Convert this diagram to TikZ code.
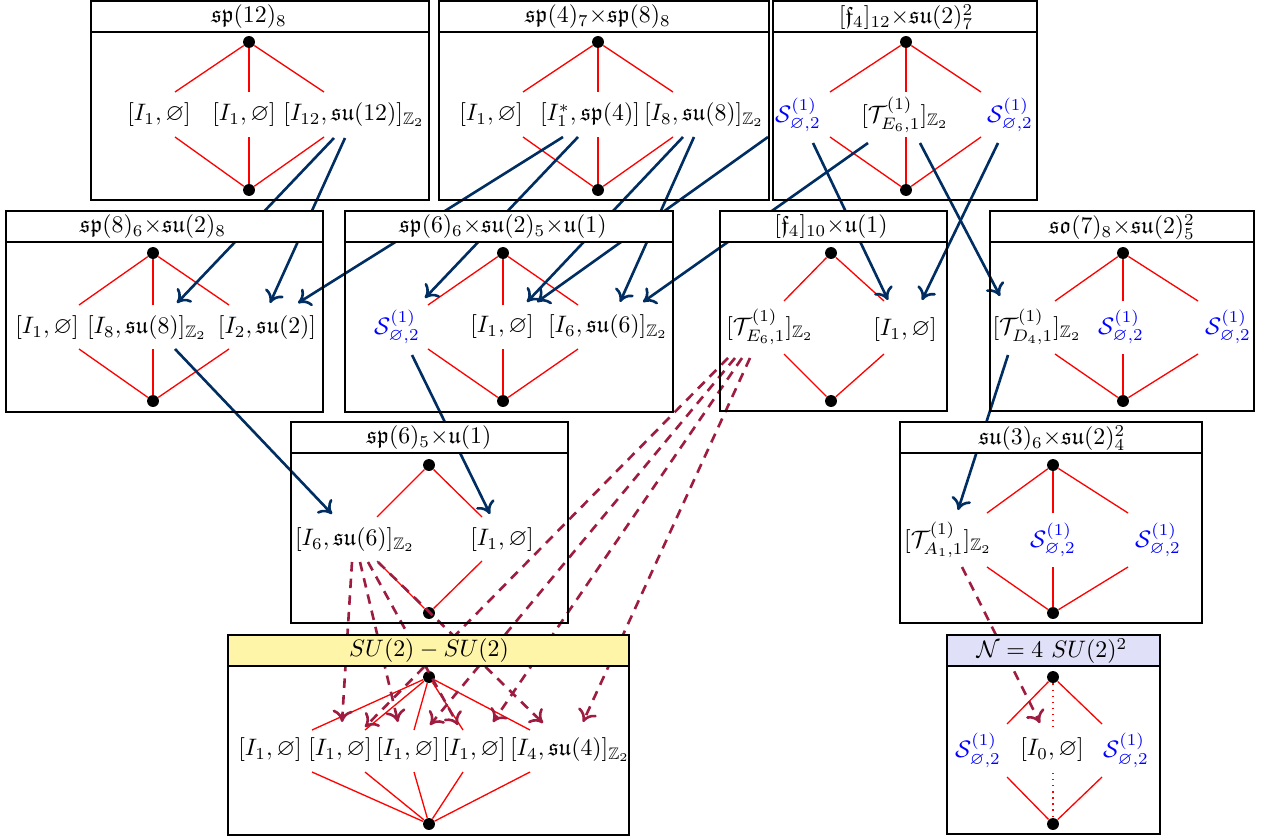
\documentclass[tikz,border=0pt]{standalone}
\usepackage{amsmath}
\usepackage{amssymb}
\usepackage{tikz}
\usetikzlibrary{calc,arrows,arrows.meta}

\definecolor{flowblue}{RGB}{0,46,98}
\definecolor{flowred}{RGB}{158,28,64}
\definecolor{barsun}{RGB}{255,245,168}
\definecolor{barlilac}{RGB}{224,224,248}

\newcommand{\Ie}[1]{[I_{#1},\varnothing]}
\newcommand{\Sg}{\mathcal{S}^{(1)}_{\varnothing,2}}
\newcommand{\Tz}[1]{[\mathcal{T}^{(1)}_{#1}]_{\mathbb{Z}_2}}

\tikzset{
  panel/.style={draw,line width=0.6pt},
  vtx/.style={circle,fill,inner sep=0pt,minimum size=5pt},
  hasse/.style={red,line width=0.55pt},
  lbl/.style={inner sep=1pt},
  sgl/.style={lbl,blue},
  blueflow/.style={-{To[length=5pt,width=8.5pt]},flowblue,line width=1.1pt},
  redflow/.style={-{To[length=5pt,width=8.5pt]},flowred,line width=1.1pt,dash pattern=on 4pt off 3pt},
}

% lines of one lattice: name, x of the middle row, y above and below it
\newcommand{\lattice}[4]{%
  \foreach \x [count=\i] in {#2} {
    \coordinate (#1u\i) at (\x,#3);
    \coordinate (#1d\i) at (\x,#4);
    \draw[hasse] (#1t) -- (#1u\i) (#1d\i) -- (#1b);
  }}

\begin{document}
\begin{tikzpicture}[x=0.42pt,y=-0.42pt]
\useasboundingbox (0,0) rectangle (1270,839);

% top and bottom points
\foreach \p/\x/\ya/\yb in {A/249/42/190, B/598/42/190, C/906/42/190,
    D/153/253/401, E/503/253/401, F/831/253/401, G/1123/253/401,
    H/429/465/613, I/1053/465/613, J/429/677/824, K/1053/677/824}{
  \node[vtx] (\p t) at (\x,\ya) {};
  \node[vtx] (\p b) at (\x,\yb) {};
}

\lattice{A}{175,249,324}{92}{137}
\lattice{B}{523,598,673}{92}{137}
\lattice{C}{830,906,981}{92}{137}
\lattice{D}{79,153,229}{305}{349}
\lattice{E}{428,503,578}{305}{349}
\lattice{F}{784,884}{301}{354}
\lattice{G}{1055,1123,1198}{301}{354}
\lattice{H}{377,482}{517}{561}
\lattice{I}{987,1053,1128}{513}{567}
\lattice{J}{312,365,414,463,530}{730}{772}
\lattice{K}{1007,1102}{724}{777}
\coordinate (Kum) at (1053,728);
\coordinate (Kdm) at (1053,773);
\draw[hasse,dotted] (Kt) -- (Kum) (Kdm) -- (Kb);

% labels
\node[lbl] (A1) at (159,115) {$\Ie{1}$};
\node[lbl] (A2) at (244,115) {$\Ie{1}$};
\node[lbl] (A3) at (354,115) {$[I_{12},\mathfrak{su}(12)]_{\mathbb{Z}_2}$};
\node[lbl] (B1) at (491,115) {$\Ie{1}$};
\node[lbl] (B2) at (590,115) {$[I_1^*,\mathfrak{sp}(4)]$};
\node[lbl] (B3) at (704,115) {$[I_8,\mathfrak{su}(8)]_{\mathbb{Z}_2}$};
\node[sgl] (C1) at (798,115) {$\Sg$};
\node[lbl] (C2) at (905,115) {$\Tz{E_6,1}$};
\node[sgl] (C3) at (1010,115) {$\Sg$};
\node[lbl] (D1) at (47,328) {$\Ie{1}$};
\node[lbl] (D2) at (147,328) {$[I_8,\mathfrak{su}(8)]_{\mathbb{Z}_2}$};
\node[lbl] (D3) at (267,328) {$[I_2,\mathfrak{su}(2)]$};
\node[sgl] (E1) at (397,327) {$\Sg$};
\node[lbl] (E2) at (502,327) {$\Ie{1}$};
\node[lbl] (E3) at (608,327) {$[I_6,\mathfrak{su}(6)]_{\mathbb{Z}_2}$};
\node[lbl] (F1) at (770,327) {$\Tz{E_6,1}$};
\node[lbl] (F2) at (905,330) {$\Ie{1}$};
\node[lbl] (G1) at (1037,327) {$\Tz{D_4,1}$};
\node[sgl] (G2) at (1121,327) {$\Sg$};
\node[sgl] (G3) at (1228,327) {$\Sg$};
\node[lbl] (H1) at (355,540) {$[I_6,\mathfrak{su}(6)]_{\mathbb{Z}_2}$};
\node[lbl] (H2) at (502,540) {$\Ie{1}$};
\node[lbl] (I1) at (948,540) {$\Tz{A_1,1}$};
\node[sgl] (I2) at (1053,540) {$\Sg$};
\node[sgl] (I3) at (1158,540) {$\Sg$};
\node[lbl] (J1) at (270,750) {$\Ie{1}$};
\node[lbl] (J2) at (340,750) {$\Ie{1}$};
\node[lbl] (J3) at (408,750) {$\Ie{1}$};
\node[lbl] (J4) at (474,750) {$\Ie{1}$};
\node[lbl] (J5) at (570,750) {$[I_4,\mathfrak{su}(4)]_{\mathbb{Z}_2}$};
\node[sgl] (K1) at (978,750) {$\Sg$};
\node[lbl] (K2) at (1052,750) {$\Ie{0}$};
\node[sgl] (K3) at (1126,750) {$\Sg$};

% solid arrows
\draw[blueflow] ($(A3)+(-20,23)$) -- ($(D2)+(30,-25)$);
\draw[blueflow] ($(A3)+(-9,23)$) -- ($(D3)+(3,-25)$);
\draw[blueflow] ($(B2)+(-27,22)$) -- ($(D3)+(31,-25)$);
\draw[blueflow] ($(B2)+(-12,22)$) -- ($(E1)+(28,-29)$);
\draw[blueflow] ($(B3)+(-21,22)$) -- ($(E2)+(25,-25)$);
\draw[blueflow] ($(B3)+(-10,22)$) -- ($(E3)+(12,-25)$);
\draw[blueflow] ($(B3)+(64,22)$) -- ($(E2)+(35,-25)$);
\draw[blueflow] ($(C2)+(-37,28)$) -- ($(E3)+(35,-25)$);
\draw[blueflow] ($(C1)+(15,28)$) -- ($(F2)+(-17,-30)$);
\draw[blueflow] ($(C3)+(-12,28)$) -- ($(F2)+(17,-30)$);
\draw[blueflow] ($(C2)+(15,28)$) -- ($(G1)+(-37,-31)$);
\draw[blueflow] ($(D2)+(28,21)$) -- ($(H1)+(-23,-26)$);
\draw[blueflow] ($(E1)+(15,28)$) -- ($(H2)+(-12,-26)$);
\draw[blueflow] ($(G1)+(-29,28)$) -- ($(I1)+(10,-30)$);

% dashed arrows
\foreach \dx/\tgt/\ox/\oy in {-3/J2/2/-28, 5/J3/-10/-28, 13/J4/-16/-25, 23/J5/-27/-27}
  \draw[redflow] ($(H1)+(\dx,22)$) -- ($(\tgt)+(\ox,\oy)$);
\foreach \dx/\tgt/\ox/\oy in {-42/J2/25/-23, -35/J3/22/-25, -28/J4/19/-28, -20/J5/13/-28}
  \draw[redflow] ($(F1)+(\dx,31)$) -- ($(\tgt)+(\ox,\oy)$);
\draw[redflow] ($(I1)+(14,27)$) -- ($(K2)+(-12,-27)$);

% frames and title bars
\foreach \xa/\ya/\xb/\yb/\xt/\barcol/\txt [count=\i] in {
    91/1/429/200/249/white/{$\mathfrak{sp}(12)_8$},
    439/1/769/200/598/white/{$\mathfrak{sp}(4)_7{\times}\mathfrak{sp}(8)_8$},
    773/1/1037/200/906/white/{$[\mathfrak{f}_4]_{12}{\times}\mathfrak{su}(2)^2_7$},
    6/211/323/412/153/white/{$\mathfrak{sp}(8)_6{\times}\mathfrak{su}(2)_8$},
    345/211/673/412/503/white/{$\mathfrak{sp}(6)_6{\times}\mathfrak{su}(2)_5{\times}\mathfrak{u}(1)$},
    720/211/947/411/831/white/{$[\mathfrak{f}_4]_{10}{\times}\mathfrak{u}(1)$},
    990/211/1254/411/1122/white/{$\mathfrak{so}(7)_8{\times}\mathfrak{su}(2)^2_5$},
    291/422/568/623/429/white/{$\mathfrak{sp}(6)_5{\times}\mathfrak{u}(1)$},
    900/422/1202/623/1052/white/{$\mathfrak{su}(3)_6{\times}\mathfrak{su}(2)^2_4$},
    228/635/629/835/429/barsun/{$SU(2)-SU(2)$},
    947/635/1160/834/1052/barlilac/{$\mathcal{N}=4\ SU(2)^2$}}{
  \draw[panel] (\xa,\ya) rectangle (\xb,\yb);
  \draw[panel,fill=\barcol] (\xa,\ya) rectangle (\xb,\ya+31);
  \node (T\i) at (\xt,\ya+16) {\txt};
}
\end{tikzpicture}
\end{document}
